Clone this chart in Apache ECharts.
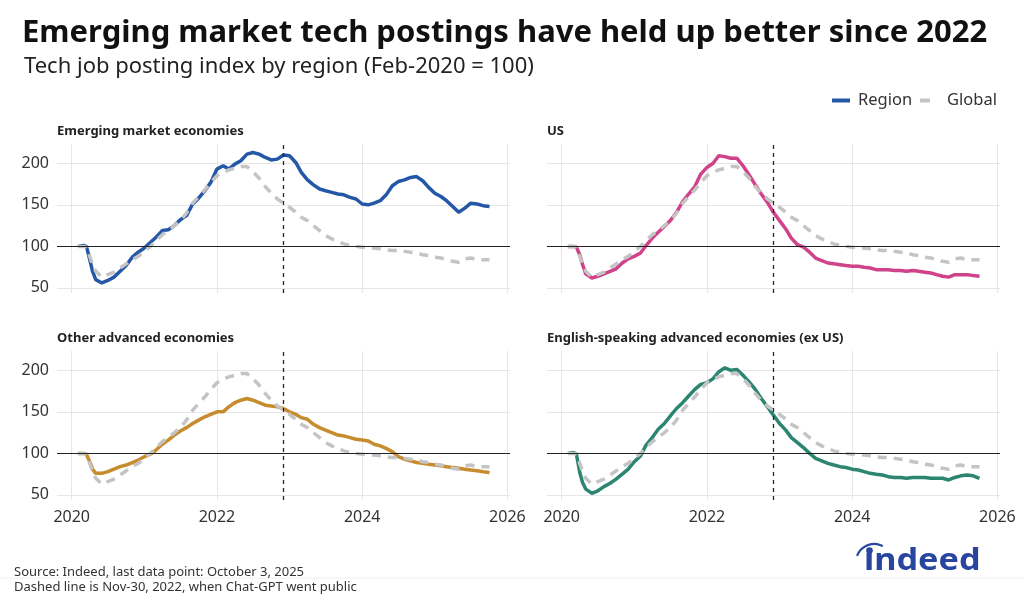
<!DOCTYPE html>
<html><head><meta charset="utf-8">
<script src="https://cdn.jsdelivr.net/npm/echarts@6/dist/echarts.min.js"></script>
<style>html,body{margin:0;padding:0;background:#fff}#c{width:1024px;height:605px}</style>
</head><body><div id="c"></div>
<script>
// ---- data ----
const dates = ['2020-02-01','2020-03-01','2020-03-15','2020-04-01','2020-04-15','2020-05-01','2020-06-01','2020-07-01','2020-08-01','2020-09-01','2020-10-01','2020-11-01','2020-12-01',
'2021-01-01','2021-02-01','2021-03-01','2021-04-01','2021-05-01','2021-06-01','2021-07-01','2021-08-01','2021-09-01','2021-10-01','2021-11-01','2021-12-01',
'2022-01-01','2022-02-01','2022-03-01','2022-04-01','2022-05-01','2022-06-01','2022-07-01','2022-08-01','2022-09-01','2022-10-01','2022-11-01','2022-12-01',
'2023-01-01','2023-02-01','2023-03-01','2023-04-01','2023-05-01','2023-06-01','2023-07-01','2023-08-01','2023-09-01','2023-10-01','2023-11-01','2023-12-01',
'2024-01-01','2024-02-01','2024-03-01','2024-04-01','2024-05-01','2024-06-01','2024-07-01','2024-08-01','2024-09-01','2024-10-01','2024-11-01','2024-12-01',
'2025-01-01','2025-02-01','2025-03-01','2025-04-01','2025-05-01','2025-06-01','2025-07-01','2025-08-01','2025-09-01','2025-10-03'];

const emerging = [100,101,100,84,70,60,56,59,63,70,77,87,93,
98,105,111,119,120,125,132,137,151,158,167,177,
193,197,193,199,203,211,213,211,207,204,205,210,
209,201,189,180,174,169,167,165,163,162,159,157,
151,150,152,155,162,173,178,180,183,184,179,171,
164,160,155,148,141,146,152,151,149,148];

const usa = [100,100,99,90,78,67,62,64,67,70,73,80,85,
88,92,101,110,117,124,131,141,154,163,172,187,
195,200,209,208,206,206,197,186,174,163,153,141,
131,121,110,102,99,93,86,83,80,79,78,77,
76,76,75,74,72,72,72,71,71,70,71,70,
69,68,66,64,63,66,66,66,65,64];

const otherAdvanced = [100,100,99,90,81,76,76,78,81,84,86,89,92,
96,99,104,111,116,122,127,131,136,140,144,147,
150,150,156,161,164,166,164,161,158,157,156,154,
150,147,143,141,135,131,128,125,122,121,119,117,
116,115,111,109,106,102,96,93,91,89,88,87,
86,85,84,83,82,81,80,79,78,77];

const englishSpeaking = [100,101,99,77,65,57,52,55,60,64,69,75,81,
90,97,110,119,129,136,145,154,161,169,177,183,
185,190,198,203,200,201,194,186,177,166,156,146,
136,128,119,113,107,100,94,91,88,86,84,83,
81,80,78,76,75,74,72,71,71,70,71,71,
71,70,70,70,68,71,73,74,73,70];

const globalIdx = [100,100,99,88,78,70,63,66,69,74,79,84,88,
94,100,107,114,119,125,131,140,152,160,168,177,
185,189,192,194,196,196,190,182,172,164,157,152,
147,141,135,131,125,119,113,109,106,103,101,100,
99,98,98,97,96,95,95,94,93,92,90,89,
87,86,84,82,81,85,86,84,84,84];

const panelTitles = ['Emerging market economies','US','Other advanced economies','English-speaking advanced economies (ex US)'];
const yTicks = [50,100,150,200];
const xTicks = [2020,2022,2024,2026];
const chatGptDate = '2022-11-30';
const baseline = 100;

// ---- chart ----
const FONT = '"Noto Sans", "Open Sans", sans-serif';
// date string -> fractional year (position on the value axis)
const fy = s => {
  const p = s.split('-').map(Number);
  const start = Date.UTC(p[0],0,1), end = Date.UTC(p[0]+1,0,1);
  return p[0] + (Date.UTC(p[0],p[1]-1,p[2]) - start) / (end - start);
};
const xMin = fy('2019-10-19');
const xMax = fy('2026-01-14');

const panels = [
  {vals: emerging, color:'#2557a7', left:57, top:144},
  {vals: usa, color:'#d0428a', left:547, top:144},
  {vals: otherAdvanced, color:'#c68c2e', left:57, top:351},
  {vals: englishSpeaking, color:'#2b8571', left:547, top:351}
];

const grid = [], xAxis = [], yAxis = [], series = [], titles = [];
titles.push({text:'Emerging market tech postings have held up better since 2022', left:22, top:18, padding:0,
  textStyle:{fontFamily:FONT, fontSize:31, fontWeight:'bold', color:'#111'}});
titles.push({text:'Tech job posting index by region (Feb-2020 = 100)', left:24, top:56, padding:0,
  textStyle:{fontFamily:FONT, fontSize:22, fontWeight:'normal', color:'#222'}});
titles.push({text:'Source: Indeed, last data point: October 3, 2025', left:14, top:566, padding:0,
  textStyle:{fontFamily:FONT, fontSize:13, fontWeight:'normal', color:'#333'}});
titles.push({text:'Dashed line is Nov-30, 2022, when Chat-GPT went public', left:14, top:581, padding:0,
  textStyle:{fontFamily:FONT, fontSize:13, fontWeight:'normal', color:'#333'}});

panels.forEach((p, i) => {
  grid.push({left:p.left, top:p.top, width:453, height:149, containLabel:false});
  titles.push({text: panelTitles[i], left:p.left, top:p.top-19, padding:0,
    textStyle:{fontFamily:FONT, fontSize:13, fontWeight:'bold', color:'#222'}});
  xAxis.push({type:'value', gridIndex:i, min:xMin, max:xMax,
    axisLine:{show:false}, axisTick:{show:false, customValues:xTicks},
    axisLabel:{show: i>=2, customValues:xTicks, formatter: v => String(Math.round(v)),
      fontFamily:FONT, fontSize:16, color:'#333', margin:9},
    splitLine:{show:true, lineStyle:{color:'#e6e6e6', width:1}}});
  yAxis.push({type:'value', gridIndex:i, min:43.9, max:223.2,
    axisLine:{show:false}, axisTick:{show:false, customValues:yTicks},
    axisLabel:{show: i%2===0, customValues:yTicks, fontFamily:FONT, fontSize:16, color:'#333', margin:8},
    splitLine:{show:true, lineStyle:{color:'#e6e6e6', width:1}}});
  series.push({type:'line', name:'Region', xAxisIndex:i, yAxisIndex:i,
    data: dates.map((d,k) => [fy(d), p.vals[k]]),
    symbol:'none', showSymbol:false, smooth:false, z:2,
    lineStyle:{color:p.color, width:3.5}, itemStyle:{color:p.color},
    markLine:{silent:true, symbol:'none', label:{show:false},
      data:[{yAxis:baseline, lineStyle:{color:'#222', width:1.2, type:'solid'}}]}});
  series.push({type:'line', name:'Global', xAxisIndex:i, yAxisIndex:i,
    data: dates.map((d,k) => [fy(d), globalIdx[k]]),
    symbol:'none', showSymbol:false, z:3,
    lineStyle:{color:'#c4c4c4', width:3.5, type:[9,7]}, itemStyle:{color:'#c4c4c4'},
    markLine:{silent:true, symbol:'none', label:{show:false},
      data:[{xAxis:fy(chatGptDate), lineStyle:{color:'#222', width:1.3, type:[4,4]}}]}});
});

const LOGO = '#2846a0';
const option = {
  animation:false,
  backgroundColor:'#fff',
  textStyle:{fontFamily:FONT},
  title: titles,
  legend:[
    {data:[{name:'Region', icon:'rect', itemStyle:{color:'#2557a7'}}], left:832, top:92, padding:0,
      itemWidth:18, itemHeight:4, selectedMode:false,
      textStyle:{fontFamily:FONT, fontSize:16.5, color:'#333', padding:[0,0,0,3]}},
    {data:[{name:'Global', icon:'rect', itemStyle:{color:'#c4c4c4'}}], left:920, top:92, padding:0,
      itemWidth:10, itemHeight:4, selectedMode:false,
      textStyle:{fontFamily:FONT, fontSize:16.5, color:'#333', padding:[0,0,0,12]}}
  ],
  grid, xAxis, yAxis, series,
  graphic:[
    {type:'line', shape:{x1:0, y1:578, x2:1024, y2:578}, style:{stroke:'#f0f0f0', lineWidth:1}, silent:true},
    {type:'text', x:864, y:561, scaleX:1.14, silent:true,
      style:{x:0, y:0, text:'\u0131ndeed', font:'bold 30px "Noto Sans", sans-serif', fill:LOGO, verticalAlign:'middle', align:'left'}},
    {type:'circle', shape:{cx:869.5, cy:550.5, r:3.3}, style:{fill:LOGO}, silent:true},
    {type:'arc', shape:{cx:874, cy:562, r:18, startAngle:Math.PI*1.11, endAngle:Math.PI*1.66, clockwise:true},
      style:{stroke:LOGO, lineWidth:2.2, fill:null}, silent:true}
  ]
};
const chart = echarts.init(document.getElementById('c'), null, {renderer:'canvas'});
chart.setOption(option);
</script></body></html>
